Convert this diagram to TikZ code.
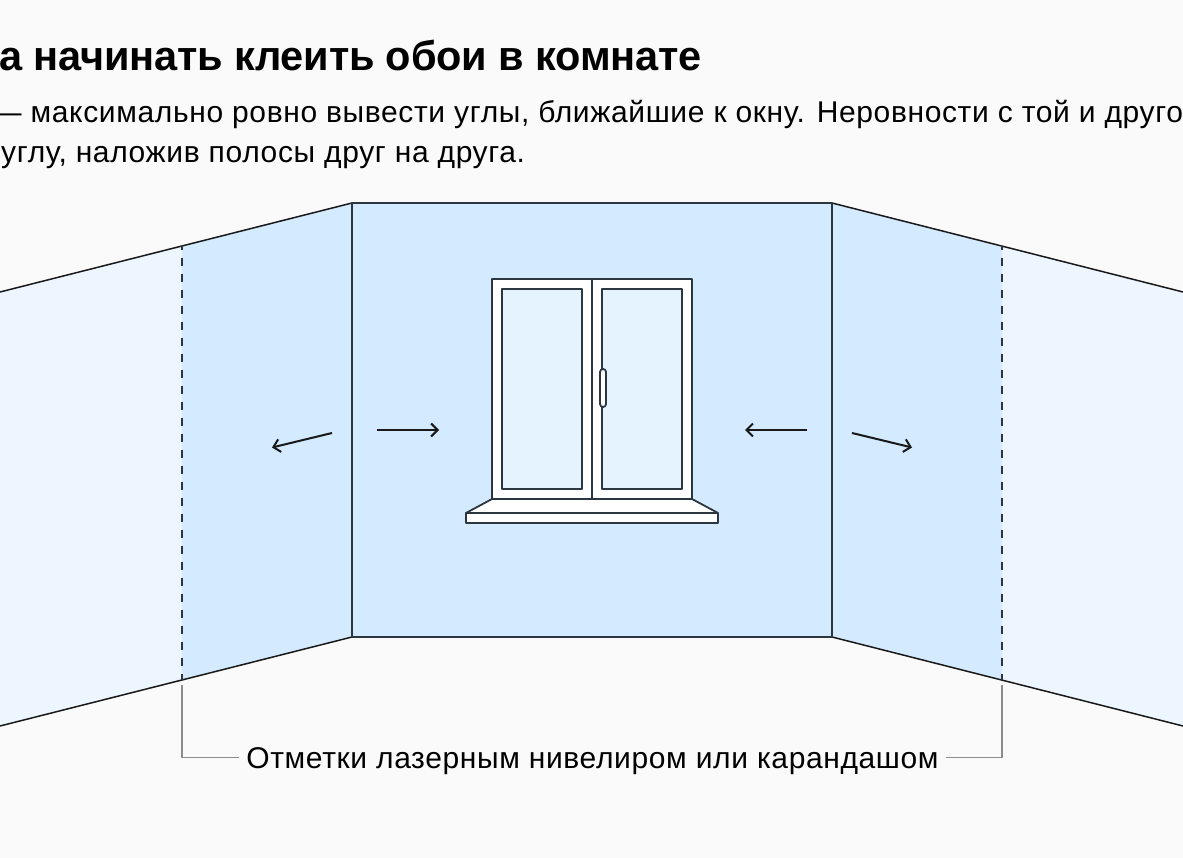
\documentclass[tikz,border=0pt]{standalone}
\usepackage{fontspec}
\usetikzlibrary{arrows.meta}
\setmainfont{Liberation Sans}
\newfontfamily\bodyfont[LetterSpace=2.1]{Liberation Sans}
\newfontfamily\headfont[LetterSpace=-0.5]{Liberation Sans}
\definecolor{bgc}{HTML}{FAFAFA}
\definecolor{wallc}{HTML}{D3EAFF}
\definecolor{sidec}{HTML}{EDF5FE}
\definecolor{glassc}{HTML}{E5F3FF}
\definecolor{inkc}{HTML}{2B3640}
\definecolor{leadc}{HTML}{8C8C8C}
\tikzset{
  ink/.style={draw=inkc,line width=1.8pt,line join=bevel},
  wallline/.style={draw=black!90,line width=1.5pt},
  movearrow/.style={draw=black!90,line width=2pt,-{Straight Barb[length=6.5pt,width=13pt,line width=2pt]}},
  lead/.style={draw=leadc,line width=1.2pt},
  dashmark/.style={draw=inkc,line width=1.8pt,dash pattern=on 8pt off 8pt,dash phase=5pt},
  txt/.style={anchor=base west,inner sep=0pt,text=black},
  bodytext/.style={font=\bodyfont\fontsize{30}{30}\selectfont}
}
\begin{document}
\begin{tikzpicture}[x=1pt,y=-1pt]
\useasboundingbox (0,0) rectangle (1183,858);
\fill[bgc] (0,0) rectangle (1183,858);
% walls
\fill[sidec] (0,292) -- (182,246) -- (182,680) -- (0,726) -- cycle;
\fill[sidec] (1183,292) -- (1002,246) -- (1002,680) -- (1183,726) -- cycle;
\fill[wallc] (182,246) -- (352,203) -- (352,637) -- (182,680) -- cycle;
\fill[wallc] (1002,246) -- (832,203) -- (832,637) -- (1002,680) -- cycle;
\fill[wallc] (352,203) rectangle (832,637);
\draw[wallline] (0,292) -- (352,203);
\draw[wallline] (0,726) -- (352,637);
\draw[wallline] (1183,292) -- (832,203);
\draw[wallline] (1183,726) -- (832,637);
\draw[ink] (352,203) rectangle (832,637);
\draw[dashmark] (182,247) -- (182,680);
\draw[dashmark] (1002,247) -- (1002,680);
% window
\draw[ink,fill=white] (492,279) rectangle (692,499);
\draw[ink] (592,279) -- (592,499);
\draw[ink,fill=glassc] (502,289) rectangle (582,489);
\draw[ink,fill=glassc] (602,289) rectangle (682,489);
\draw[ink,fill=white] (492,499) -- (466,513) -- (718,513) -- (692,499) -- cycle;
\draw[ink,fill=white] (466,513) rectangle (718,523);
\draw[ink,fill=white,rounded corners=3pt] (600,369) rectangle (606,407);
% arrows
\coordinate (a1s) at (332,433); \coordinate (a1e) at (272,447.5);
\coordinate (a2s) at (377,430); \coordinate (a2e) at (439,430);
\coordinate (a3s) at (807,430); \coordinate (a3e) at (745,430);
\coordinate (a4s) at (852,433); \coordinate (a4e) at (912,447.5);
\draw[movearrow] (a1s) -- (a1e);
\draw[movearrow] (a2s) -- (a2e);
\draw[movearrow] (a3s) -- (a3e);
\draw[movearrow] (a4s) -- (a4e);
% text
\node[txt,font=\headfont\fontsize{41.5}{41.5}\selectfont\bfseries] (title) at (-1,71) {а начинать клеить обои в комнате};
\node[txt,bodytext] (sub1) at (-8.5,123) {— максимально ровно вывести углы, ближайшие к окну. Неровности с той и другой};
\node[txt,bodytext] (sub2) at (1,163) {углу, наложив полосы друг на друга.};
\node[bodytext,text=black,inner xsep=7pt,inner ysep=0pt,anchor=base] (note) at (592.5,768) {Отметки лазерным нивелиром или карандашом};
% leaders
\coordinate (m1) at (182,685); \coordinate (m2) at (1002,685);
\draw[lead] (m1) |- (note.west |- 0,757.5);
\draw[lead] (m2) |- (note.east |- 0,757.5);
\end{tikzpicture}
\end{document}
